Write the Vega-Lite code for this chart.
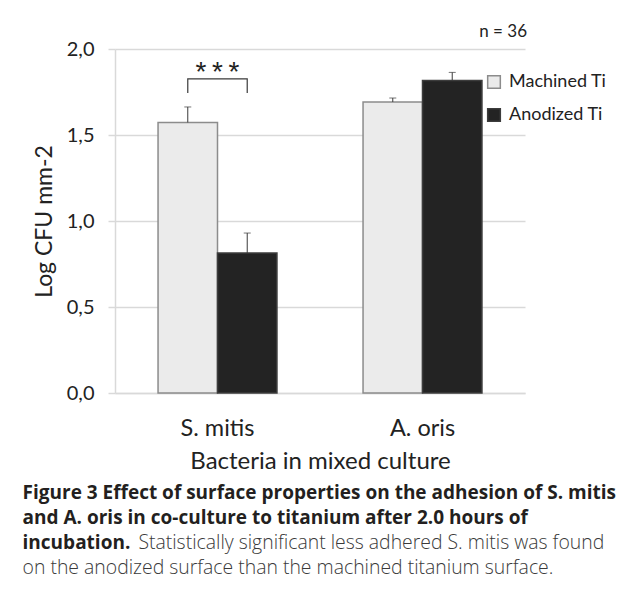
{
  "$schema": "https://vega.github.io/schema/vega-lite/v6.json",
  "background": "white",
  "padding": {"left": 22, "top": 23, "right": 5, "bottom": 5},
  "config": {"view": {"stroke": null}, "font": "Lato"},
  "datasets": {
    "bars": [
      {"Bacteria": "S. mitis", "Surface": "Machined Ti", "value": 1.573, "hi": 1.663},
      {"Bacteria": "S. mitis", "Surface": "Anodized Ti", "value": 0.814, "hi": 0.93},
      {"Bacteria": "A. oris", "Surface": "Machined Ti", "value": 1.692, "hi": 1.715},
      {"Bacteria": "A. oris", "Surface": "Anodized Ti", "value": 1.817, "hi": 1.864}
    ],
    "bracket": [
      {"Bacteria": "S. mitis", "Surface": "Machined Ti", "y": 1.744, "o": 1},
      {"Bacteria": "S. mitis", "Surface": "Machined Ti", "y": 1.826, "o": 2},
      {"Bacteria": "S. mitis", "Surface": "Anodized Ti", "y": 1.826, "o": 3},
      {"Bacteria": "S. mitis", "Surface": "Anodized Ti", "y": 1.744, "o": 4}
    ],
    "stars": [
      {"Bacteria": "S. mitis", "y": 1.86, "label": "*\u2009*\u2009*"}
    ]
  },
  "title": {
    "text": ["Figure 3 Effect of surface properties on the adhesion of S. mitis", "and A. oris in co-culture to titanium after 2.0 hours of", "incubation."],
    "subtitle": ["\u200b\u00a0\u00a0\u00a0\u00a0\u00a0\u00a0\u00a0\u00a0\u00a0\u00a0\u00a0\u00a0\u00a0\u00a0\u00a0\u00a0\u00a0\u00a0\u00a0\u00a0\u00a0\u00a0\u00a0Statistically significant less adhered S. mitis was found", "on the anodized surface than the machined titanium surface."],
    "orient": "bottom",
    "anchor": "start",
    "frame": "bounds",
    "dx": -10.7,
    "font": "Open Sans",
    "fontSize": 19,
    "fontWeight": "bold",
    "color": "#231f20",
    "lineHeight": 25.3,
    "subtitleFont": "Open Sans",
    "subtitleFontSize": 19.4,
    "subtitleFontWeight": 300,
    "subtitleColor": "#3a3a3a",
    "subtitleLineHeight": 25.3,
    "subtitlePadding": -19,
    "offset": 10
  },
  "vconcat": [
    {
      "width": 410,
      "height": 344,
      "title": {"text": "n = 36", "anchor": "end", "font": "Lato", "fontSize": 17, "fontWeight": "normal", "color": "#222222", "offset": -2, "dx": 2},
      "layer": [
        {
          "data": {"name": "bars"},
          "mark": {"type": "bar", "strokeWidth": 1.5},
          "encoding": {
            "x": {
              "field": "Bacteria", "type": "nominal", "sort": ["S. mitis", "A. oris"],
              "scale": {"paddingInner": 0.42, "paddingOuter": 0.21},
              "axis": {"title": "Bacteria in mixed culture", "labelAngle": 0, "labelFontSize": 23.5, "labelColor": "#222222", "ticks": false, "domainColor": "#d9d9d9", "domainWidth": 1.5, "labelPadding": 23, "titleFontSize": 24, "titleFontWeight": "normal", "titleColor": "#222222", "titlePadding": 10}
            },
            "xOffset": {"field": "Surface", "type": "nominal", "sort": ["Machined Ti", "Anodized Ti"], "scale": {"paddingInner": 0, "paddingOuter": 0}},
            "y": {
              "field": "value", "type": "quantitative", "scale": {"domain": [0, 2]},
              "axis": {"title": "Log CFU mm-2", "values": [0, 0.5, 1, 1.5, 2], "labelExpr": "replace(format(datum.value,'.1f'),'.',',')", "labelFontSize": 20, "labelColor": "#222222", "labelPadding": 14, "tickSize": 7, "tickColor": "#d9d9d9", "tickWidth": 1.5, "domainColor": "#d9d9d9", "domainWidth": 1.5, "gridColor": "#d9d9d9", "gridWidth": 1.5, "titleFontSize": 23, "titleFontWeight": "normal", "titleColor": "#222222", "titlePadding": 10}
            },
            "fill": {
              "field": "Surface", "type": "nominal",
              "scale": {"domain": ["Machined Ti", "Anodized Ti"], "range": ["#ebebeb", "#232323"]},
              "legend": {"orient": "none", "legendX": 370, "legendY": 24, "title": null, "symbolType": "square", "symbolSize": 160, "symbolStrokeWidth": 1.5, "labelFontSize": 18, "labelFont": "Lato", "labelColor": "#222222", "rowPadding": 13, "labelOffset": 6, "padding": 0}
            },
            "stroke": {
              "field": "Surface", "type": "nominal",
              "scale": {"domain": ["Machined Ti", "Anodized Ti"], "range": ["#8c8c8c", "#3c3c3c"]},
              "legend": {"orient": "none", "legendX": 370, "legendY": 24, "title": null, "symbolType": "square", "symbolSize": 160, "symbolStrokeWidth": 1.5, "labelFontSize": 18, "labelFont": "Lato", "labelColor": "#222222", "rowPadding": 13, "labelOffset": 6, "padding": 0}
            }
          }
        },
        {
          "data": {"name": "bars"},
          "mark": {"type": "rule", "color": "#3a3a3a", "strokeWidth": 1},
          "encoding": {
            "x": {"field": "Bacteria", "type": "nominal", "sort": ["S. mitis", "A. oris"]},
            "xOffset": {"field": "Surface", "type": "nominal", "sort": ["Machined Ti", "Anodized Ti"]},
            "y": {"field": "value", "type": "quantitative"},
            "y2": {"field": "hi"}
          }
        },
        {
          "data": {"name": "bars"},
          "mark": {"type": "tick", "color": "#3a3a3a", "thickness": 1, "size": 7},
          "encoding": {
            "x": {"field": "Bacteria", "type": "nominal", "sort": ["S. mitis", "A. oris"]},
            "xOffset": {"field": "Surface", "type": "nominal", "sort": ["Machined Ti", "Anodized Ti"]},
            "y": {"field": "hi", "type": "quantitative"}
          }
        },
        {
          "data": {"name": "bracket"},
          "mark": {"type": "line", "color": "#3a3a3a", "strokeWidth": 1.2},
          "encoding": {
            "x": {"field": "Bacteria", "type": "nominal", "sort": ["S. mitis", "A. oris"]},
            "xOffset": {"field": "Surface", "type": "nominal", "sort": ["Machined Ti", "Anodized Ti"]},
            "y": {"field": "y", "type": "quantitative"},
            "order": {"field": "o", "type": "quantitative"}
          }
        },
        {
          "data": {"name": "stars"},
          "mark": {"type": "text", "fontSize": 28, "baseline": "middle", "color": "#222222", "font": "Liberation Sans"},
          "encoding": {
            "x": {"field": "Bacteria", "type": "nominal", "sort": ["S. mitis", "A. oris"]},
            "y": {"field": "y", "type": "quantitative"},
            "text": {"field": "label"}
          }
        }
      ]
    }
  ]
}
